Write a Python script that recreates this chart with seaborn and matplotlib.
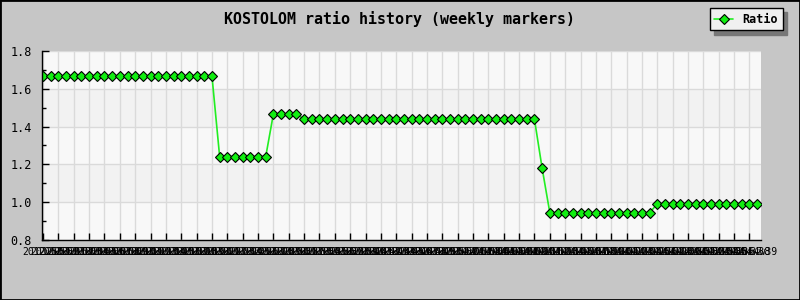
import matplotlib
matplotlib.use("Agg")
import matplotlib.pyplot as plt
import seaborn as sns
import pandas as pd
from matplotlib.patches import Rectangle
from matplotlib.ticker import MultipleLocator, FixedLocator
from matplotlib.lines import Line2D

weeks = [
    "2012w50", "2012w51", "2012w52",
    "2013w01", "2013w02", "2013w03", "2013w04", "2013w05", "2013w06", "2013w07", "2013w08",
    "2013w09", "2013w10", "2013w11", "2013w12", "2013w13", "2013w14", "2013w15", "2013w16",
    "2013w17", "2013w18", "2013w19", "2013w20", "2013w21", "2013w22", "2013w23", "2013w24",
    "2013w25", "2013w26", "2013w27", "2013w28", "2013w29", "2013w30", "2013w31", "2013w32",
    "2013w33", "2013w34", "2013w35", "2013w36", "2013w37", "2013w38", "2013w39", "2013w40",
    "2013w41", "2013w42", "2013w43", "2013w44", "2013w45", "2013w46", "2013w47", "2013w48",
    "2013w49", "2013w50", "2013w51", "2013w52",
    "2014w01", "2014w02", "2014w03", "2014w04", "2014w05", "2014w06", "2014w07", "2014w08",
    "2014w09", "2014w10", "2014w11", "2014w12", "2014w13", "2014w14", "2014w15", "2014w16",
    "2014w17", "2014w18", "2014w19", "2014w20", "2014w21", "2014w22", "2014w23", "2014w24",
    "2014w25", "2014w26", "2014w27", "2014w28", "2014w29", "2014w30", "2014w31", "2014w32",
    "2014w33", "2014w34", "2014w35", "2014w36", "2014w37", "2014w38", "2014w39",
]

ratio = [
    1.667, 1.667, 1.667, 1.667, 1.667, 1.667, 1.667, 1.667, 1.667, 1.667, 1.667, 1.667,
    1.667, 1.667, 1.667, 1.667, 1.667, 1.667, 1.667, 1.667, 1.667, 1.667, 1.667,
    1.241, 1.241, 1.241, 1.241, 1.241, 1.241, 1.241,
    1.467, 1.467, 1.467, 1.467,
    1.438, 1.438, 1.438, 1.438, 1.438, 1.438, 1.438, 1.438, 1.438, 1.438, 1.438,
    1.438, 1.438, 1.438, 1.438, 1.438, 1.438, 1.438, 1.438, 1.438, 1.438, 1.438,
    1.438, 1.438, 1.438, 1.438, 1.438, 1.438, 1.438, 1.438, 1.438,
    1.179,
    0.944, 0.944, 0.944, 0.944, 0.944, 0.944, 0.944, 0.944, 0.944, 0.944, 0.944, 0.944,
    0.944, 0.944,
    0.992, 0.992, 0.992, 0.992, 0.992, 0.992, 0.992, 0.992, 0.992, 0.992, 0.992, 0.992,
    0.992, 0.992,
]

y_ticks = [0.8, 1.0, 1.2, 1.4, 1.6, 1.8]
title = "KOSTOLOM ratio history (weekly markers)"
series_name = "Ratio"

sns.set_style("white")
plt.rcParams["font.family"] = ["DejaVu Sans Mono", "DejaVu Sans"]

df = pd.DataFrame({"idx": list(range(len(ratio))), "week": weeks, "ratio": ratio})

BG = "#c6c6c6"
fig = plt.figure(figsize=(8, 3), dpi=100, facecolor=BG)
ax = fig.add_axes([41.5 / 800, 60 / 300, (761 - 41.5) / 800, (240 - 51) / 300])
ax.set_facecolor("#f8f8f8")

# alternating horizontal bands
for i in range(len(y_ticks) - 1):
    if i % 2 == 1:
        ax.axhspan(y_ticks[i], y_ticks[i + 1], color="#f2f2f2", zorder=0, lw=0)

MS = 4.6
sns.lineplot(data=df, x="idx", y="ratio", ax=ax, color="#22ee22", lw=1.2,
             marker="D", markersize=MS, markerfacecolor="#11ee11",
             markeredgecolor="black", markeredgewidth=0.8, legend=False, zorder=5)

ax.set_xlim(-0.2, len(ratio) - 1 + 0.5)
ax.set_ylim(0.8, 1.8)

# y axis
ax.yaxis.set_major_locator(FixedLocator(y_ticks))
ax.yaxis.set_minor_locator(MultipleLocator(0.1))
ax.set_yticklabels([f"{t:.1f}" for t in y_ticks])
ax.tick_params(axis="y", which="major", direction="in", length=5, width=1,
               color="black", labelsize=8.5, pad=7, left=True, labelcolor="black")
ax.tick_params(axis="y", which="minor", direction="in", length=3, width=1,
               color="black", left=True)

# x axis: labels at every week, tick marks every 2 weeks
ax.set_xticks(list(range(len(weeks))))
ax.set_xticklabels(weeks)
ax.xaxis.remove_overlapping_locs = False
ax.xaxis.set_minor_locator(FixedLocator(list(range(0, len(weeks), 2))))
ax.tick_params(axis="x", which="major", length=0, labelsize=7, pad=5, labelcolor="black")
ax.tick_params(axis="x", which="minor", direction="in", length=5, width=1,
               color="black", bottom=True)

ax.grid(False)
ax.yaxis.grid(True, which="major", color="#dadada", lw=1)
ax.xaxis.grid(True, which="minor", color="#dadada", lw=1)
ax.set_axisbelow(True)

for s in ["top", "right"]:
    ax.spines[s].set_visible(False)
for s in ["left", "bottom"]:
    ax.spines[s].set_color("black")
    ax.spines[s].set_linewidth(1)
    ax.spines[s].set_zorder(6)

ax.set_xlabel("")
ax.set_ylabel("")

fig.text(0.5, 1 - 19 / 300, title, ha="center", va="center",
         fontsize=10.8, fontweight="bold", color="black")

handle = Line2D([0], [0], color="#22ee22", lw=1.2, marker="D", markersize=MS,
                markerfacecolor="#11ee11", markeredgecolor="black", markeredgewidth=0.8)
leg = fig.legend([handle], [series_name], loc="upper right",
                 bbox_to_anchor=(783 / 800, 1 - 8 / 300), frameon=True,
                 fancybox=False, edgecolor="black", facecolor="#f0f0f0",
                 framealpha=1, prop={"size": 8.5, "weight": "bold"},
                 handlelength=1.6, handletextpad=0.8, borderpad=0.4,
                 borderaxespad=0, shadow={"ox": 3, "oy": -3, "color": "#777777", "alpha": 1})
leg.get_frame().set_linewidth(1)
for t in leg.get_texts():
    t.set_color("black")

fig.patches.append(Rectangle((0, 0), 1, 1, transform=fig.transFigure, fill=False,
                             edgecolor="black", lw=2, zorder=10))

fig.savefig("out.png", dpi=100, facecolor=BG)
